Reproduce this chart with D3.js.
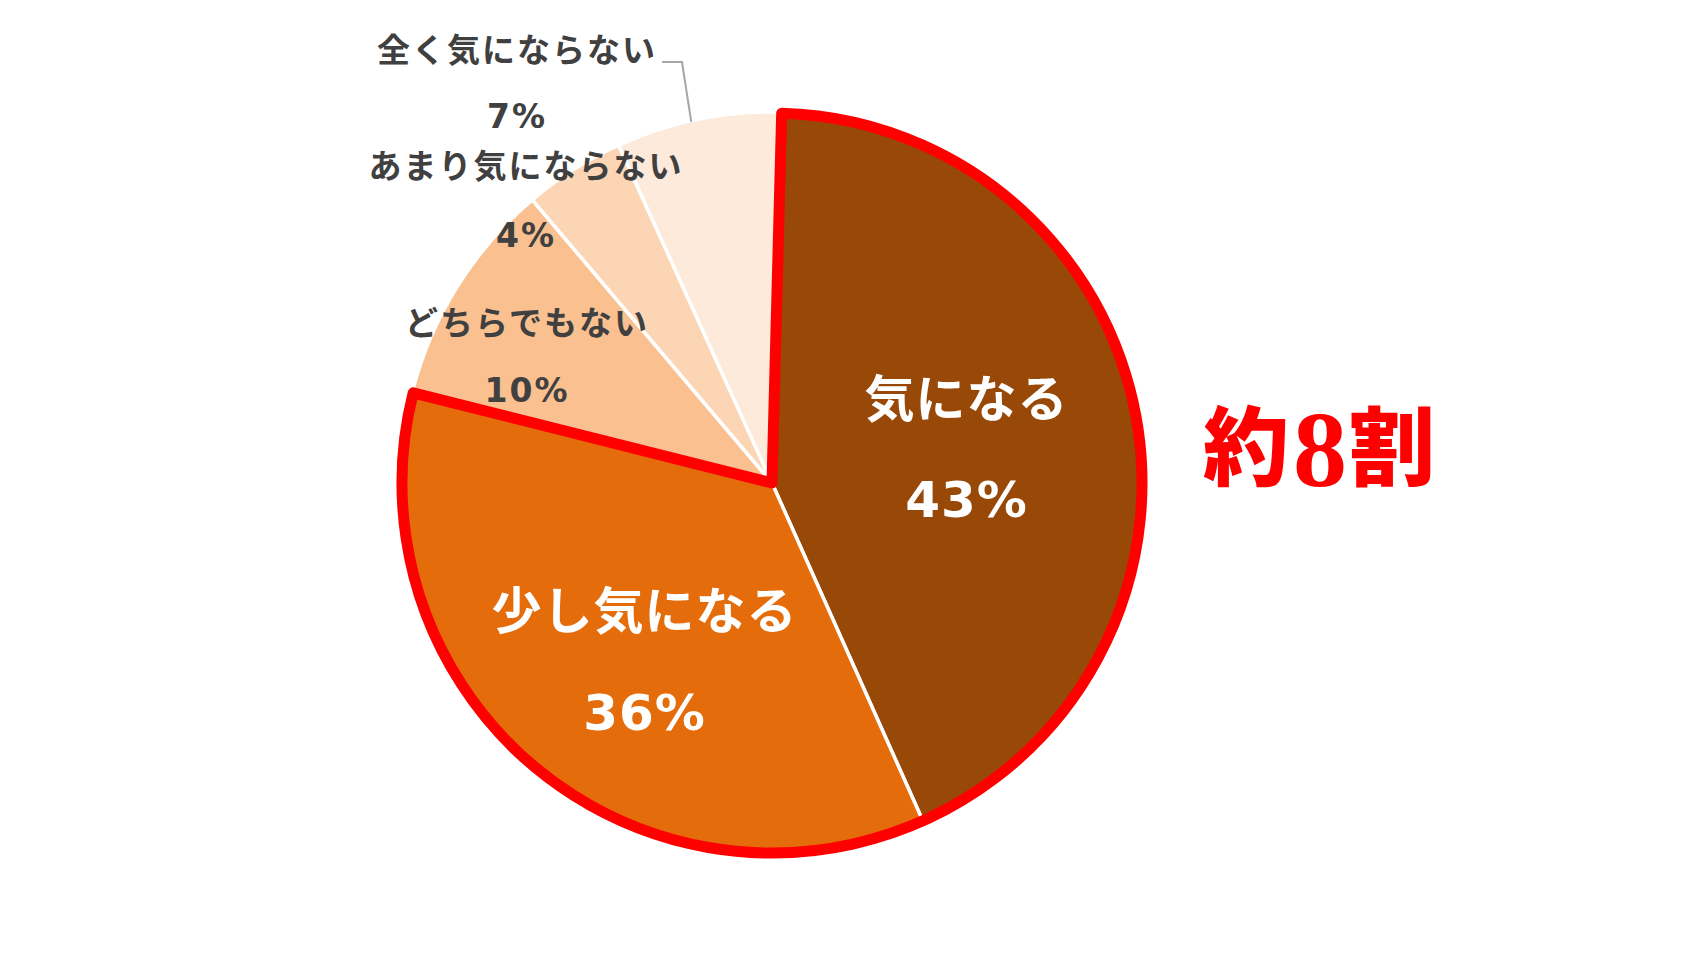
<!DOCTYPE html>
<html><head><meta charset="utf-8">
<script src="https://cdn.jsdelivr.net/npm/d3@7"></script>
<style>body{margin:0;background:#fff;} svg{display:block}</style>
</head><body>
<svg id="chart" width="1702" height="967"></svg>
<script>
// ---- data ----
const categories = ["気になる", "少し気になる", "どちらでもない", "あまり気にならない", "全く気にならない"];
const values = [42.9, 35.6, 9.9, 4.4, 7.2];
const sliceColors = ["#984807", "#E46C0A", "#FAC090", "#FCD5B5", "#FDEADA"];
const highlightParts = ["約", "8", "割"];

// ---- layout ----
const W = 1702, H = 967, cx = 772, cy = 483, R = 371;
const startDeg = 1.5;
const labelLayout = [
  {x: 966, y1: 400, y2: 500, size: 50, ls: 1, fill: "#ffffff"},
  {x: 644, y1: 612, y2: 713, size: 50, ls: 1, fill: "#ffffff"},
  {x: 526, y1: 323, y2: 390, size: 33, ls: 2, fill: "#404040"},
  {x: 525, y1: 166, y2: 235, size: 33, ls: 2, fill: "#404040"},
  {x: 516, y1: 50,  y2: 116, size: 33, ls: 2, fill: "#404040"}
];

const svg = d3.select("#chart");
svg.append("rect").attr("width", W).attr("height", H).attr("fill", "#fff");

const a0 = startDeg * Math.PI / 180;
const pie = d3.pie().sort(null).value(d => d).startAngle(a0).endAngle(a0 + 2 * Math.PI);
const arcs = pie(values);
const arc = d3.arc().innerRadius(0).outerRadius(R);
const color = d3.scaleOrdinal().domain(categories).range(sliceColors);

const g = svg.append("g").attr("transform", `translate(${cx},${cy})`);
g.selectAll("path.slice").data(arcs).join("path")
  .attr("class", "slice")
  .attr("d", arc)
  .attr("fill", (d, i) => color(categories[i]))
  .attr("stroke", "#ffffff")
  .attr("stroke-width", 3.5)
  .attr("stroke-linejoin", "round");

// red outline around the top-two categories
const hl = {startAngle: arcs[0].startAngle, endAngle: arcs[1].endAngle};
g.append("path")
  .attr("d", d3.arc().innerRadius(0).outerRadius(R - 1)(hl))
  .attr("fill", "none")
  .attr("stroke", "#FF0000")
  .attr("stroke-width", 11)
  .attr("stroke-linejoin", "round");

// leader line for the last slice
const last = arcs[arcs.length - 1];
const midA = (last.startAngle + last.endAngle) / 2 - 0.02;
const ex = cx + Math.sin(midA) * (R - 1), ey = cy - Math.cos(midA) * (R - 1);
const lt = labelLayout[4];
svg.append("polyline")
  .attr("points", `${lt.x + 146},${lt.y1 + 12} ${lt.x + 166},${lt.y1 + 12} ${ex},${ey}`)
  .attr("fill", "none").attr("stroke", "#A6A6A6").attr("stroke-width", 2);

const fontFam = "'DejaVu Sans','Noto Sans CJK JP',sans-serif";
categories.forEach((c, i) => {
  const L = labelLayout[i];
  svg.append("text")
    .attr("x", L.x + L.ls / 2).attr("y", L.y1)
    .attr("text-anchor", "middle").attr("dominant-baseline", "central")
    .attr("font-family", fontFam).attr("font-weight", "bold")
    .attr("font-size", L.size).attr("letter-spacing", L.ls)
    .attr("fill", L.fill).text(c);
  svg.append("text")
    .attr("x", L.x + L.ls / 2).attr("y", L.y2)
    .attr("text-anchor", "middle").attr("dominant-baseline", "central")
    .attr("font-family", fontFam).attr("font-weight", "bold")
    .attr("font-size", L.size).attr("letter-spacing", L.ls)
    .attr("fill", L.fill).text(Math.round(values[i]) + "%");
});

// highlight text
const ht = svg.append("text").attr("x", 1203).attr("y", 479)
  .attr("fill", "#FF0000");
ht.append("tspan").attr("font-family", "'Noto Sans CJK JP',sans-serif").attr("font-weight", 900)
  .attr("font-size", 86).text(highlightParts[0]);
ht.append("tspan").attr("font-family", "'Liberation Serif','Times New Roman','DejaVu Serif',serif")
  .attr("font-weight", 700).attr("font-size", 108).attr("dy", 7).attr("dx", 4).text(highlightParts[1]);
ht.append("tspan").attr("font-family", "'Noto Sans CJK JP',sans-serif").attr("font-weight", 900)
  .attr("font-size", 86).attr("dy", -7).attr("dx", 2).text(highlightParts[2]);
</script>
</body></html>
